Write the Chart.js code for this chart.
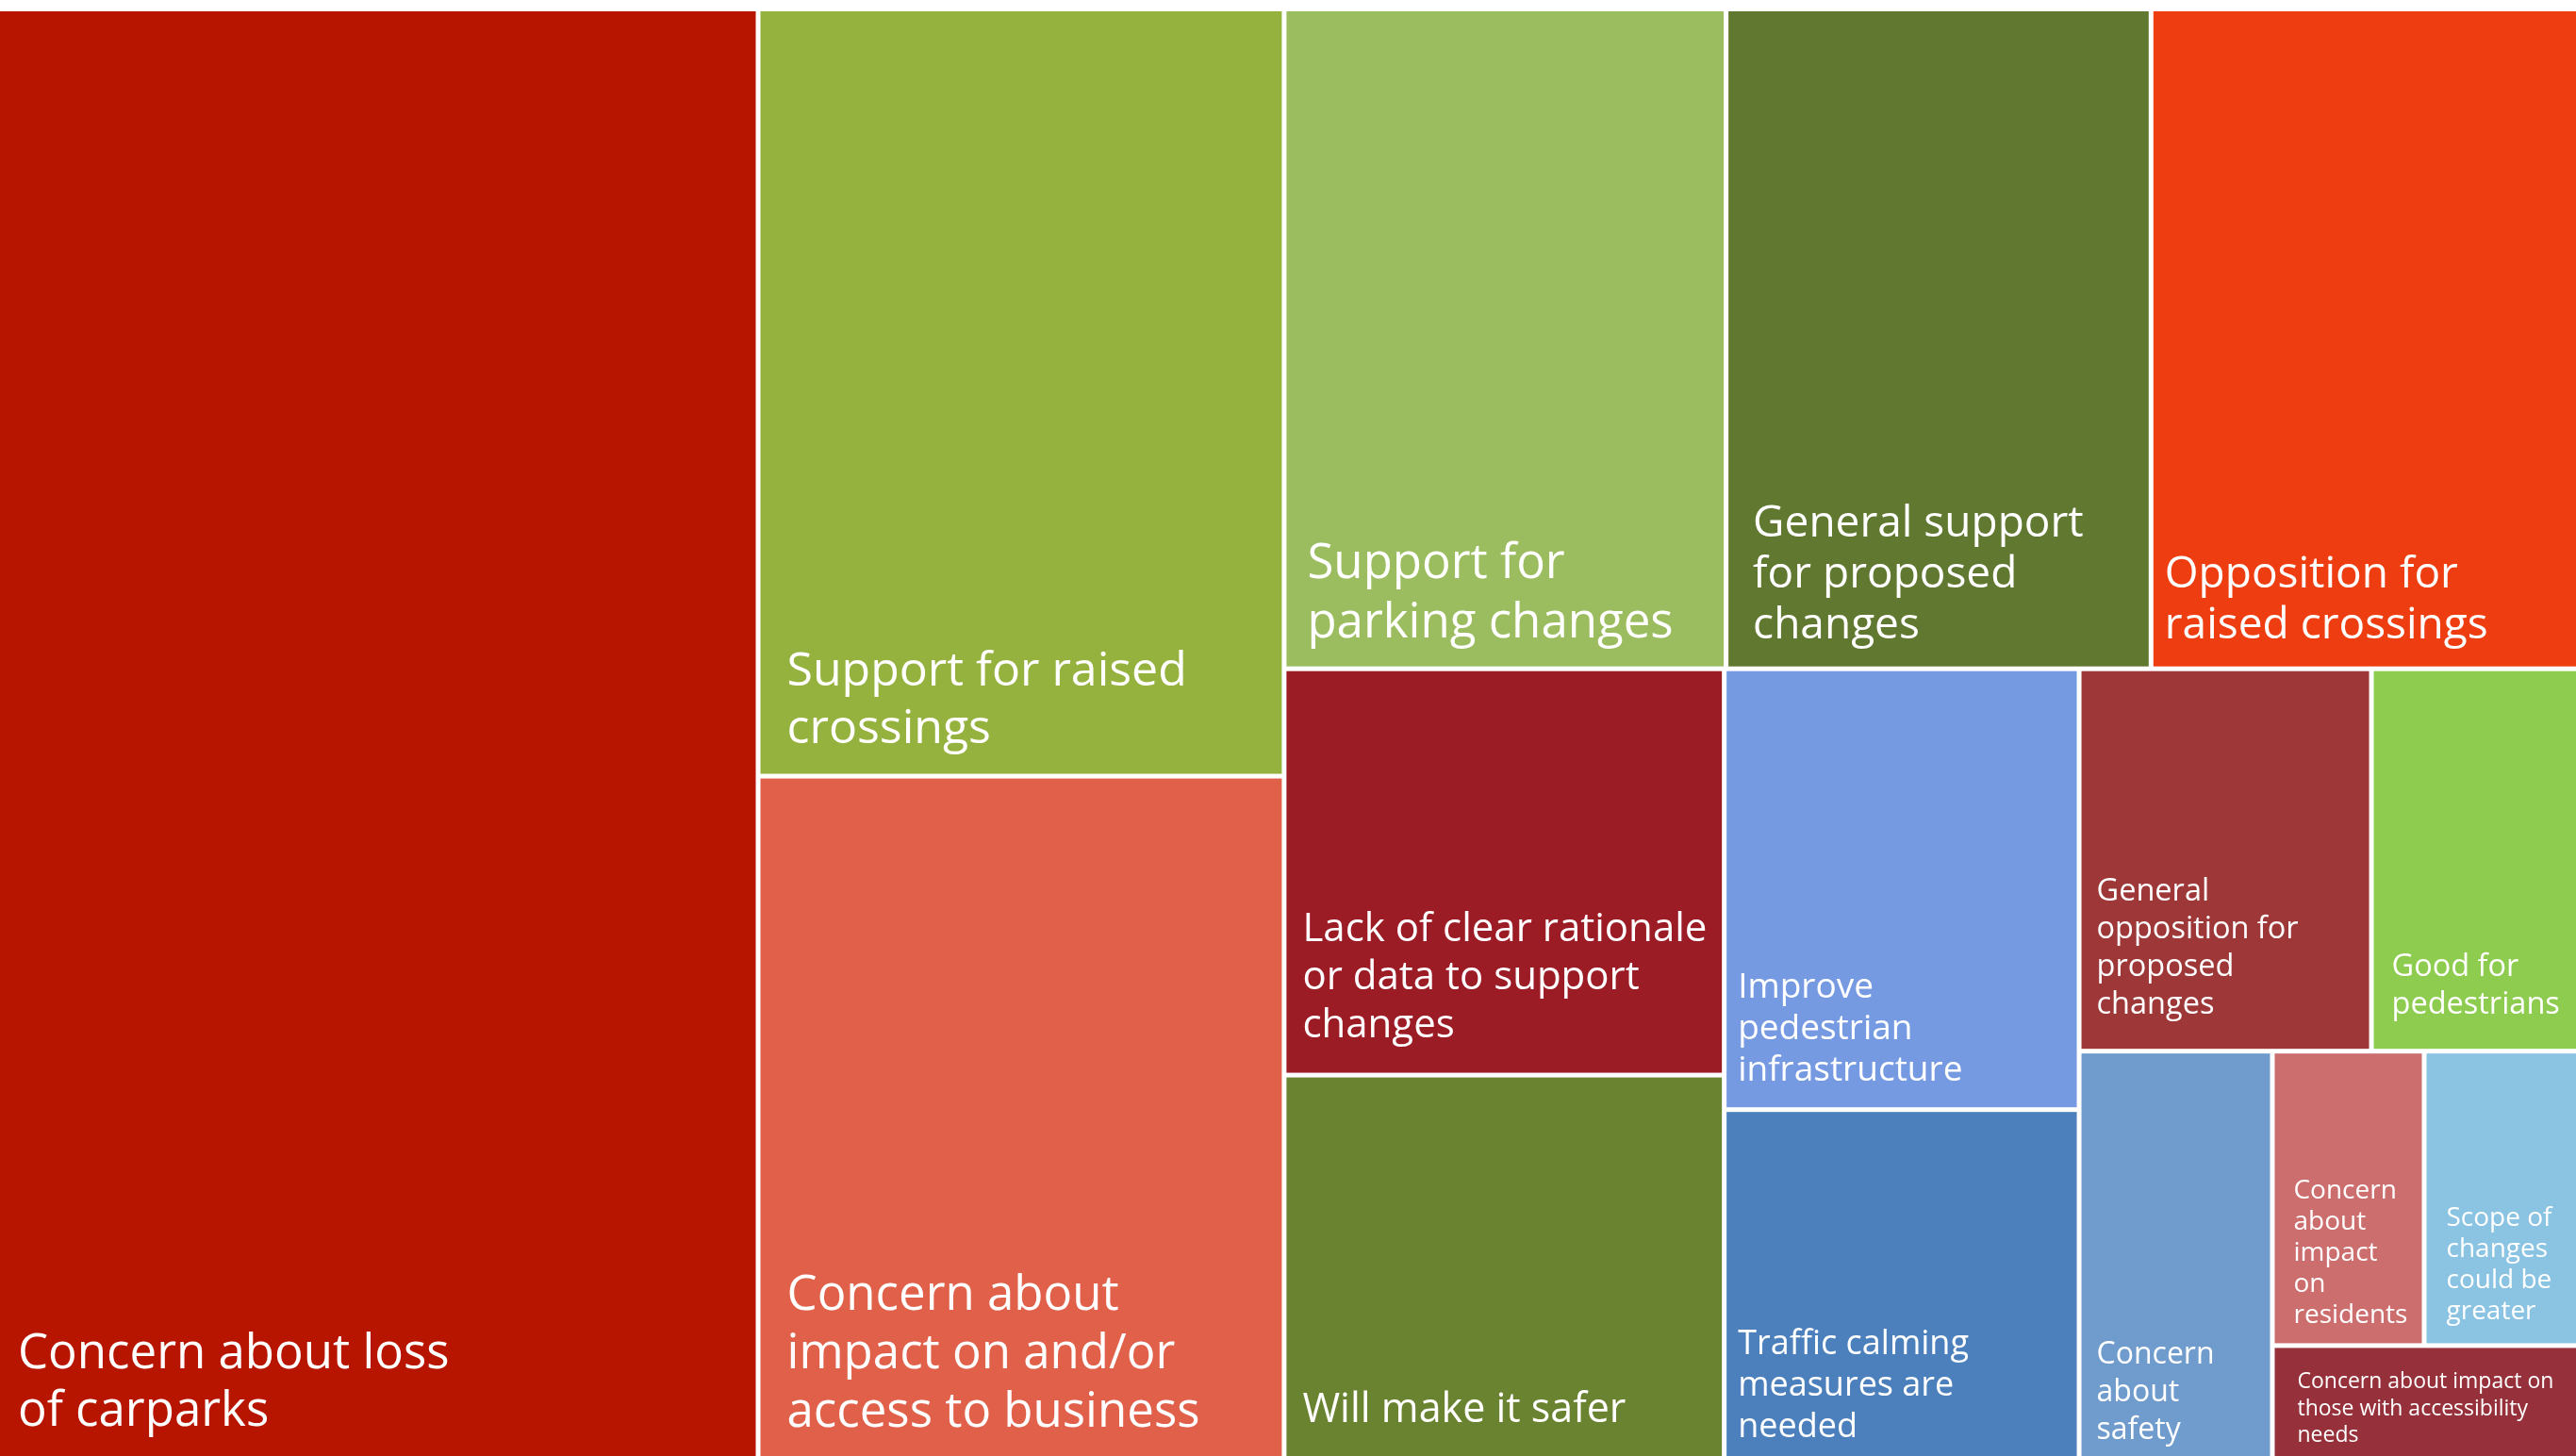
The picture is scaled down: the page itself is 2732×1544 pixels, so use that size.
<!DOCTYPE html>
<html>
<head>
<meta charset="utf-8">
<script src="https://cdn.jsdelivr.net/npm/chart.js@4.4.1/dist/chart.umd.min.js"></script>
<style>
  html, body { margin: 0; padding: 0; background: #fff; overflow: hidden; }
  #treemap { display: block; }
</style>
</head>
<body>
<canvas id="treemap" width="2732" height="1544"></canvas>
<script>
// Temas de los comentarios, ordenados de mayor a menor
const categories = [
    'Concern about loss of carparks',
    'Support for raised crossings',
    'Concern about impact on and/or access to business',
    'Support for parking changes',
    'General support for proposed changes',
    'Opposition for raised crossings',
    'Lack of clear rationale or data to support changes',
    'Will make it safer',
    'Improve pedestrian infrastructure',
    'Traffic calming measures are needed',
    'General opposition for proposed changes',
    'Good for pedestrians',
    'Concern about safety',
    'Concern about impact on residents',
    'Scope of changes could be greater',
    'Concern about impact on those with accessibility needs'
];

// Número de comentarios por tema
const counts = [98, 36, 32, 26, 25, 25, 16, 15, 14, 11, 10, 7, 7, 4, 4, 3];

// Cortes de línea de cada etiqueta
const labelLines = [
    ['Concern about loss', 'of carparks'],
    ['Support for raised', 'crossings'],
    ['Concern about', 'impact on and/or', 'access to business'],
    ['Support for', 'parking changes'],
    ['General support', 'for proposed', 'changes'],
    ['Opposition for', 'raised crossings'],
    ['Lack of clear rationale', 'or data to support', 'changes'],
    ['Will make it safer'],
    ['Improve', 'pedestrian', 'infrastructure'],
    ['Traffic calming', 'measures are', 'needed'],
    ['General', 'opposition for', 'proposed', 'changes'],
    ['Good for', 'pedestrians'],
    ['Concern', 'about', 'safety'],
    ['Concern', 'about', 'impact', 'on', 'residents'],
    ['Scope of', 'changes', 'could be', 'greater'],
    ['Concern about impact on', 'those with accessibility', 'needs']
];

const colors = [
    '#B71500', '#96B23E', '#E0604A', '#9CBD5F', '#617830', '#EE3E11',
    '#9C1C26', '#6A8330', '#769AE2', '#4C80BC', '#9E3838', '#8DCC4F',
    '#6F9BCD', '#CD6E6E', '#8BC4E3', '#96303A'
];

// [tamaño de letra, interlineado, margen izq., margen inferior] en px
const labelStyle = [
    [51, 61, 19, 32], [50, 61, 28, 33], [51, 62, 28, 31], [51, 63, 22, 31],
    [46, 54, 26, 30], [46, 54, 12, 30], [42, 51, 17, 38], [43, 51, 17, 36],
    [37, 44, 12, 28], [36, 44, 12, 20], [32.5, 40, 16, 37], [32.5, 40, 19, 37],
    [32, 40, 16, 18], [28, 33, 20, 21], [28, 33, 21, 25], [23, 28.5, 24, 15]
];

// Dominio de los ejes (unidades del layout)
const AXIS_W = 193;
const AXIS_H = 100;
const GAP = 5;

// Peor relación de aspecto de una fila apoyada sobre 'side'
function worstRatio(row, side, unit) {
    const total = row.reduce((a, b) => a + b, 0) * unit;
    const thick = total / side;
    let worst = 0;
    row.forEach(v => {
        const len = v * unit / thick;
        worst = Math.max(worst, thick / len, len / thick);
    });
    return worst;
}

// Treemap "squarified" (Bruls et al.)
function squarify(values, x, y, w, h) {
    const unit = (w * h) / values.reduce((a, b) => a + b, 0);
    const rects = [];
    let i = 0;
    while (i < values.length) {
        const side = Math.min(w, h);
        const row = [values[i]];
        let best = worstRatio(row, side, unit);
        let j = i + 1;
        while (j < values.length) {
            const next = worstRatio(row.concat(values[j]), side, unit);
            if (next > best) break;
            row.push(values[j]);
            best = next;
            j++;
        }
        const rowArea = row.reduce((a, b) => a + b, 0) * unit;
        if (w >= h) {
            const cw = rowArea / h;
            let cy = y;
            row.forEach((v, k) => {
                const rh = v * unit / cw;
                rects.push({ idx: i + k, x: x, y: cy, w: cw, h: rh });
                cy += rh;
            });
            x += cw; w -= cw;
        } else {
            const rh = rowArea / w;
            let cx = x;
            row.forEach((v, k) => {
                const rw = v * unit / rh;
                rects.push({ idx: i + k, x: cx, y: y, w: rw, h: rh });
                cx += rw;
            });
            y += rh; h -= rh;
        }
        i = j;
    }
    return rects;
}

const treemapPlugin = {
    id: 'treemapCells',
    afterDatasetsDraw(chart) {
        const { ctx, scales: { x, y } } = chart;
        const cells = squarify(counts, 0, 0, AXIS_W, AXIS_H);
        const eps = 1e-6;

        cells.forEach(c => {
            let left = x.getPixelForValue(c.x);
            let right = x.getPixelForValue(c.x + c.w);
            let top = y.getPixelForValue(c.y);
            let bottom = y.getPixelForValue(c.y + c.h);
            // hueco blanco sólo entre celdas
            if (c.x > eps) left += GAP / 2;
            if (c.x + c.w < AXIS_W - eps) right -= GAP / 2;
            if (c.y > eps) top += GAP / 2;
            if (c.y + c.h < AXIS_H - eps) bottom -= GAP / 2;

            ctx.save();
            ctx.fillStyle = colors[c.idx];
            ctx.fillRect(left, top, right - left, bottom - top);

            const [size, lineH, padX, padB] = labelStyle[c.idx];
            const lines = labelLines[c.idx];
            ctx.fillStyle = '#FFFFFF';
            ctx.font = `${size}px "Open Sans", "Noto Sans", sans-serif`;
            ctx.textAlign = 'left';
            ctx.textBaseline = 'alphabetic';
            lines.forEach((line, k) => {
                const by = bottom - padB - (lines.length - 1 - k) * lineH;
                ctx.fillText(line, left + padX, by);
            });
            ctx.restore();
        });
    }
};

new Chart(document.getElementById('treemap').getContext('2d'), {
    type: 'scatter',
    data: {
        labels: categories,
        datasets: [{ label: 'Comentarios', data: [], pointRadius: 0 }]
    },
    options: {
        responsive: false,
        animation: false,
        layout: { padding: { top: 12, left: 0, right: 0, bottom: 0 } },
        plugins: { legend: { display: false }, tooltip: { enabled: false } },
        scales: {
            x: { type: 'linear', min: 0, max: AXIS_W, display: false },
            y: { type: 'linear', min: 0, max: AXIS_H, reverse: true, display: false }
        }
    },
    plugins: [treemapPlugin]
});
</script>
</body>
</html>
